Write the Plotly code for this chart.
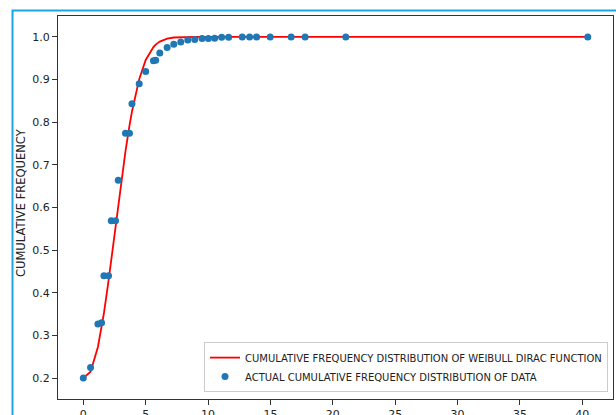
import plotly.graph_objects as go

x_data = [0.0, 0.58, 1.17, 1.46, 1.65, 2.02, 2.24, 2.58, 2.80, 3.38, 3.70, 3.90,
          4.48, 5.00, 5.62, 5.80, 6.13, 6.72, 7.25, 7.81, 8.37, 8.93, 9.52, 10.02,
          10.53, 11.09, 11.65, 12.74, 13.33, 13.89, 14.98, 16.66, 17.78, 21.04, 40.44]
y_data = [0.200, 0.225, 0.327, 0.330, 0.440, 0.440, 0.569, 0.569, 0.664, 0.774, 0.774, 0.843,
          0.890, 0.919, 0.944, 0.945, 0.962, 0.975, 0.983, 0.988, 0.993, 0.994, 0.996, 0.996,
          0.997, 0.999, 0.999, 1.000, 1.000, 1.000, 1.000, 1.000, 1.000, 1.000, 1.000]

# Fitted curve values at the same x positions
y_curve = [0.200, 0.215, 0.273, 0.317, 0.352, 0.428, 0.477, 0.556, 0.607, 0.732, 0.792, 0.825,
           0.901, 0.946, 0.976, 0.982, 0.989, 0.996, 0.9986, 0.9996, 0.9999, 1.0, 1.0, 1.0,
           1.0, 1.0, 1.0, 1.0, 1.0, 1.0, 1.0, 1.0, 1.0, 1.0, 1.0]

x_ticks = [0, 5, 10, 15, 20, 25, 30, 35, 40]
y_ticks = [0.2, 0.3, 0.4, 0.5, 0.6, 0.7, 0.8, 0.9, 1.0]

line_name = "CUMULATIVE FREQUENCY DISTRIBUTION OF WEIBULL DIRAC FUNCTION"
scatter_name = "ACTUAL CUMULATIVE FREQUENCY DISTRIBUTION OF DATA"
y_label = "CUMULATIVE FREQUENCY"

FONT = "DejaVu Sans"
TXT = "#222222"

fig = go.Figure()
fig.add_trace(go.Scatter(x=x_data, y=y_curve, mode="lines", name=line_name,
                         line=dict(color="#ff0000", width=1.8)))
fig.add_trace(go.Scatter(x=x_data, y=y_data, mode="markers", name=scatter_name,
                         marker=dict(color="#1f77b4", size=7, line=dict(width=0))))

L, R, T, B = 58, 3, 16, 16
W, H = 616, 415
pw, ph = W - L - R, H - T - B

fig.update_layout(
    template="none",
    width=W, height=H,
    margin=dict(l=L, r=R, t=T, b=B, pad=0),
    paper_bgcolor="white", plot_bgcolor="white",
    font=dict(family=FONT, size=11, color=TXT),
    showlegend=True,
    legend=dict(x=0.991, y=0.018, xanchor="right", yanchor="bottom",
                bgcolor="white", bordercolor="#cccccc", borderwidth=1,
                font=dict(family=FONT, size=10, color=TXT),
                itemwidth=30, tracegroupgap=0),
    xaxis=dict(range=[-2.03, 42.46], tickvals=x_ticks, ticktext=[str(v) for v in x_ticks],
               ticks="outside", ticklen=5, tickwidth=1, tickcolor="#333333",
               showline=True, linecolor="#333333", linewidth=1, mirror=True,
               showgrid=False, zeroline=False, automargin=False,
               tickfont=dict(family=FONT, size=11, color=TXT)),
    yaxis=dict(range=[0.151, 1.049], tickvals=y_ticks, ticktext=[f"{v:.1f}" for v in y_ticks],
               ticks="outside", ticklen=5, tickwidth=1, tickcolor="#333333",
               showline=True, linecolor="#333333", linewidth=1, mirror=True,
               showgrid=False, zeroline=False, automargin=False,
               tickfont=dict(family=FONT, size=11, color=TXT)),
)

fig.add_annotation(text=y_label, xref="paper", yref="paper",
                   x=(21 - L) / pw, y=(H - B - 203) / ph,
                   xanchor="center", yanchor="middle", textangle=-90, showarrow=False,
                   font=dict(family=FONT, size=11.5, color=TXT))

# Blue frame around the screenshot (left and top edges visible)
fig.add_shape(type="rect", xref="paper", yref="paper",
              x0=(12.5 - L) / pw, x1=1.2, y0=-0.2, y1=1 + (T - 10.5) / ph,
              line=dict(color="#1aa6e4", width=2), fillcolor="rgba(0,0,0,0)", layer="above")

fig.write_html("out.html")
